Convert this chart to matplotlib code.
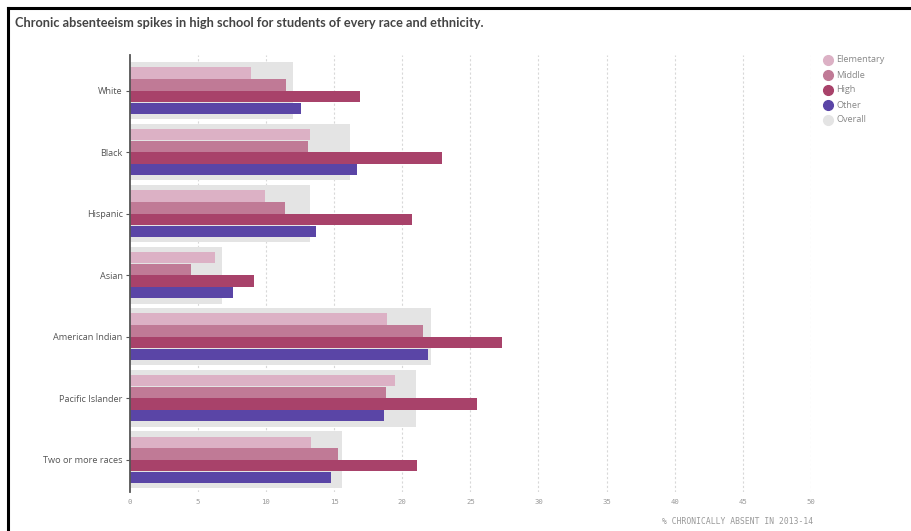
import matplotlib
matplotlib.use('Agg')
import matplotlib.pyplot as plt
from matplotlib.lines import Line2D
import numpy as np

# data (% chronically absent, 2013-14)
groups = ["White", "Black", "Hispanic", "Asian", "American Indian",
          "Pacific Islander", "Two or more races"]
elementary = [8.9, 13.2, 9.9, 6.3, 18.9, 19.5, 13.3]
middle = [11.5, 13.1, 11.4, 4.5, 21.5, 18.8, 15.3]
high = [16.9, 22.9, 20.7, 9.1, 27.3, 25.5, 21.1]
other = [12.6, 16.7, 13.7, 7.6, 21.9, 18.7, 14.8]
overall = [12.0, 16.2, 13.2, 6.8, 22.1, 21.0, 15.6]

series = ["Elementary", "Middle", "High", "Other"]
COLORS = {"Elementary": "#dcb1c5", "Middle": "#c07a96", "High": "#a8426a",
          "Other": "#5a45a6", "Overall": "#e4e4e4"}
xticks = list(range(0, 55, 5))

fig = plt.figure(figsize=(9.11, 5.31), dpi=100)
ax = fig.add_axes([0.1423, 0.0734, 0.7480, 0.8230])

y = np.arange(len(groups))
ax.barh(y, overall, height=0.92, color=COLORS["Overall"], zorder=2)
step = 0.19
for i, (name, vals) in enumerate(zip(series, [elementary, middle, high, other])):
    ax.barh(y + (i - 1.5) * step, vals, height=0.185, color=COLORS[name], zorder=3)

ax.set_xlim(0, 50)
ax.set_ylim(len(groups) - 1 + 0.525, -0.58)

for t in xticks[1:]:
    ax.axvline(t, color="#d8d8d8", lw=0.8, ls=(0, (2, 2)), zorder=1)

for s in ["top", "right", "bottom"]:
    ax.spines[s].set_visible(False)
ax.spines["left"].set_color("#555555")
ax.spines["left"].set_linewidth(1.3)
ax.spines["left"].set_zorder(5)

ax.set_yticks(y)
ax.set_yticklabels(groups, fontsize=6.6, color="#555555", family="Open Sans")
ax.tick_params(axis="y", length=3, width=0.8, color="#555555", pad=2)
ax.set_xticks(xticks)
ax.set_xticklabels([str(t) for t in xticks], fontsize=5.2, color="#999999",
                   family="DejaVu Sans Mono")
ax.tick_params(axis="x", length=0, pad=5)

fig.text(0.0165, 0.957, "Chronic absenteeism spikes in high school for students of every race and ethnicity.",
         fontsize=9.2, fontweight="bold", color="#444444", family="Lato", va="center")

fig.text(0.8925, 0.018, "% CHRONICALLY ABSENT IN 2013-14", fontsize=5.8, color="#999999",
         family="DejaVu Sans Mono", ha="right", va="center")

# legend drawn as circles + text in figure coords
for i, name in enumerate(series + ["Overall"]):
    yy = 1 - (60 + 15 * i) / 531
    fig.add_artist(Line2D([827.7 / 911], [yy], marker="o", ms=7, color=COLORS[name],
                          lw=0, transform=fig.transFigure))
    fig.text(836.5 / 911, yy, name, fontsize=6.6, color="#888888", family="Open Sans", va="center")

# frame lines at top and left, as in the screenshot
fig.add_artist(Line2D([7.5 / 911, 7.5 / 911], [0, 1 - 7.5 / 531], color="black", lw=2.2,
                      transform=fig.transFigure))
fig.add_artist(Line2D([7.5 / 911, 1], [1 - 7.5 / 531, 1 - 7.5 / 531], color="black", lw=2.2,
                      transform=fig.transFigure))

fig.savefig("out.png", dpi=100)
